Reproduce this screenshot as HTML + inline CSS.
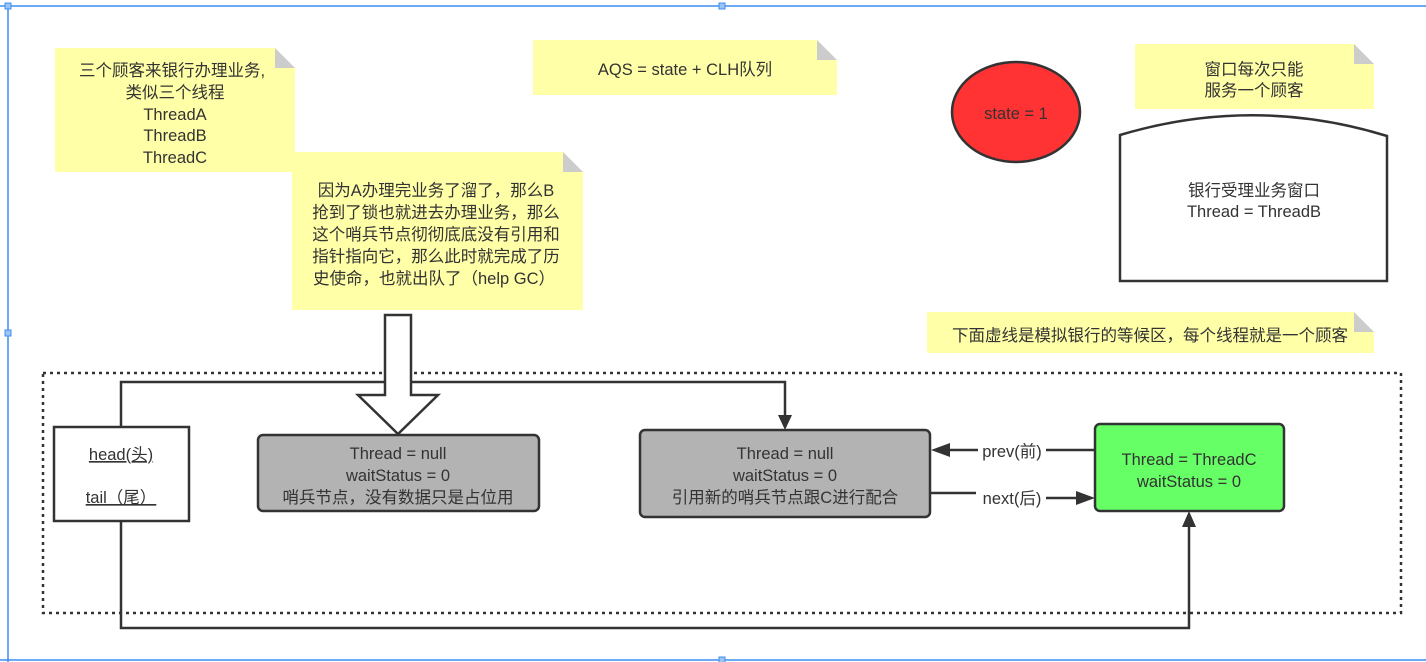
<!DOCTYPE html>
<html><head><meta charset="utf-8"><style>
html,body{margin:0;padding:0;background:#fff;width:1426px;height:662px;overflow:hidden}
svg{display:block}
text{font-family:"Liberation Sans","Noto Sans CJK SC",sans-serif;font-size:16.5px;fill:#333;text-anchor:middle}
</style></head><body>
<svg width="1426" height="662" viewBox="0 0 1426 662" xmlns="http://www.w3.org/2000/svg">
<!-- blue frame -->
<line x1="0" y1="6" x2="1426" y2="6" stroke="#3d8ef0" stroke-width="1.5"/>
<line x1="8" y1="6" x2="8" y2="662" stroke="#3d8ef0" stroke-width="1.5"/>
<line x1="0" y1="660" x2="1426" y2="660" stroke="#3d8ef0" stroke-width="1.5"/>
<rect x="5" y="3" width="6" height="6" fill="#9cc3f5" stroke="#3d8ef0"/>
<rect x="719" y="3" width="6" height="6" fill="#9cc3f5" stroke="#3d8ef0"/>
<rect x="5" y="330" width="6" height="6" fill="#9cc3f5" stroke="#3d8ef0"/>
<rect x="719" y="657" width="6" height="6" fill="#9cc3f5" stroke="#3d8ef0"/>

<!-- note1 -->
<path d="M55,48 H275 L295,68 V172 H55 z" fill="#ffffa8"/>
<path d="M275,48 L295,68 H275 z" fill="#ccc"/>
<text x="172" y="76">三个顾客来银行办理业务,</text>
<text x="175" y="98">类似三个线程</text>
<text x="175" y="120">ThreadA</text>
<text x="175" y="141">ThreadB</text>
<text x="175" y="163">ThreadC</text>

<!-- note2 -->
<path d="M292,152 H563 L583,172 V310 H292 z" fill="#ffffa8"/>
<path d="M563,152 L583,172 H563 z" fill="#ccc"/>
<text x="436" y="196">因为A办理完业务了溜了，那么B</text>
<text x="436" y="218">抢到了锁也就进去办理业务，那么</text>
<text x="436" y="240">这个哨兵节点彻彻底底没有引用和</text>
<text x="436" y="262">指针指向它，那么此时就完成了历</text>
<text x="434" y="284">史使命，也就出队了（help GC）</text>

<!-- AQS note -->
<path d="M533,40 H817 L837,60 V95 H533 z" fill="#ffffa8"/>
<path d="M817,40 L837,60 H817 z" fill="#ccc"/>
<text x="685" y="75">AQS = state + CLH队列</text>

<!-- ellipse -->
<ellipse cx="1016" cy="112" rx="64" ry="50" fill="#ff3333" stroke="#333" stroke-width="2.5"/>
<text x="1016" y="119">state = 1</text>

<!-- window note -->
<path d="M1135,44 H1354 L1374,64 V109 H1135 z" fill="#ffffa8"/>
<path d="M1354,44 L1374,64 H1354 z" fill="#ccc"/>
<text x="1254" y="75">窗口每次只能</text>
<text x="1254" y="96">服务一个顾客</text>

<!-- window shape -->
<path d="M1120,135 Q1254,95 1387,136 V281 H1120 z" fill="#fff" stroke="#333" stroke-width="2.5"/>
<text x="1254" y="196">银行受理业务窗口</text>
<text x="1254" y="217">Thread = ThreadB</text>

<!-- bottom note -->
<path d="M927,312 H1354 L1374,332 V353 H927 z" fill="#ffffa8"/>
<path d="M1354,312 L1374,332 H1354 z" fill="#ccc"/>
<text x="1150" y="341">下面虚线是模拟银行的等候区，每个线程就是一个顾客</text>

<!-- dotted area -->
<rect x="43" y="373" width="1358" height="240" fill="none" stroke="#333" stroke-width="2.5" stroke-dasharray="3,4"/>

<!-- connectors -->
<path d="M121,427 V382 H785 V420" fill="none" stroke="#333" stroke-width="2.5"/>
<path d="M778,415 L792,415 L785,430 z" fill="#333"/>
<path d="M121,521 V628 H1189 V520" fill="none" stroke="#333" stroke-width="2.5"/>
<path d="M1182,527 L1196,527 L1189,511 z" fill="#333"/>
<path d="M1095,450 H1046 M978,450 H940" fill="none" stroke="#333" stroke-width="2.5"/>
<path d="M931,450 L950,443 L950,457 z" fill="#333"/>
<path d="M930,493 H976 M1046,498 H1080" fill="none" stroke="#333" stroke-width="2.5"/>
<path d="M1095,498 L1076,491 L1076,505 z" fill="#333"/>
<text x="1012" y="457">prev(前)</text>
<text x="1012" y="504">next(后)</text>

<!-- hollow arrow -->
<path d="M385,315 H411 V395 H438 L398,434 L358,395 H385 z" fill="#fff" stroke="#333" stroke-width="2.5"/>

<!-- head box -->
<rect x="54" y="427" width="135" height="94" fill="#fff" stroke="#333" stroke-width="2.5"/>
<text x="121" y="460" text-decoration="underline">head(头)</text>
<text x="121" y="503" text-decoration="underline">tail（尾）</text>

<!-- gray1 -->
<rect x="258" y="435" width="281" height="76" rx="5" fill="#b3b3b3" stroke="#333" stroke-width="2.5"/>
<text x="398" y="459">Thread = null</text>
<text x="398" y="481">waitStatus = 0</text>
<text x="398" y="503">哨兵节点，没有数据只是占位用</text>

<!-- gray2 -->
<rect x="640" y="430" width="290" height="87" rx="5" fill="#b3b3b3" stroke="#333" stroke-width="2.5"/>
<text x="785" y="459">Thread = null</text>
<text x="785" y="481">waitStatus = 0</text>
<text x="785" y="503">引用新的哨兵节点跟C进行配合</text>

<!-- green -->
<rect x="1095" y="424" width="189" height="87" rx="5" fill="#66ff66" stroke="#333" stroke-width="2.5"/>
<text x="1189" y="465">Thread = ThreadC</text>
<text x="1189" y="487">waitStatus = 0</text>
</svg>
</body></html>
